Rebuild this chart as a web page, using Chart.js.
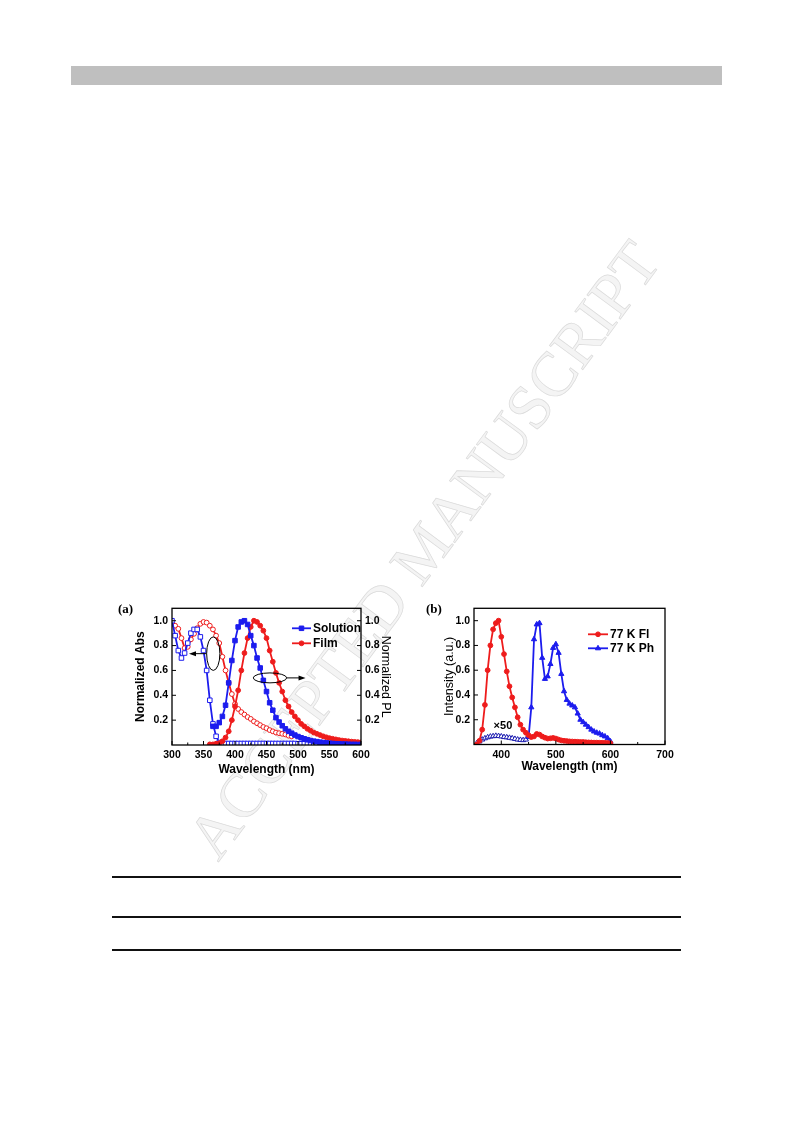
<!DOCTYPE html>
<html>
<head>
<meta charset="utf-8">
<title>Absorption and PL spectra</title>
<script src="https://cdn.jsdelivr.net/npm/chart.js@4.4.1/dist/chart.umd.min.js"></script>
<style>
  html, body { margin: 0; padding: 0; background: #fff; }
  #page { position: relative; width: 793px; height: 1123px; overflow: hidden; }
  .bar { position: absolute; left: 71px; top: 66px; width: 651px; height: 19px; background: #bfbfbf; }
  .rule { position: absolute; left: 112px; width: 569px; height: 2px; background: #111; }
  .mark {
    position: absolute; left: 424px; top: 550px; line-height: 1;
    transform: translate(-50%, -50%) rotate(-53.5deg);
    font: 63px "Liberation Serif", "Times New Roman", serif;
    color: #f4f4f4; -webkit-text-stroke: 0.7px #dadada; white-space: nowrap;
  }
  .panel-label { position: absolute; font: bold 13px "Liberation Serif", "Times New Roman", serif; line-height: 1; }
  canvas { position: absolute; }
</style>
</head>
<body>
<div id="page">
  <div class="bar"></div>
  <div class="mark">ACCEPTED MANUSCRIPT</div>
  <canvas id="chartA" width="290" height="185" style="left:118px;top:598px"></canvas>
  <canvas id="chartB" width="265" height="185" style="left:420px;top:598px"></canvas>
  <div class="panel-label" style="left:118px;top:602px">(a)</div>
  <div class="panel-label" style="left:426px;top:602px">(b)</div>
  <div class="rule" style="top:876px"></div>
  <div class="rule" style="top:916px"></div>
  <div class="rule" style="top:949px"></div>
</div>
<script>
"use strict";

// ---- panel (a): absorption / PL, solution vs film ----
const wavelengthA = [
  300, 305, 310, 315, 320, 325, 330, 335, 340, 345,
  350, 355, 360, 365, 370, 375, 380, 385, 390, 395,
  400, 405, 410, 415, 420, 425, 430, 435, 440, 445,
  450, 455, 460, 465, 470, 475, 480, 485, 490, 495,
  500, 505, 510, 515, 520, 525, 530, 535, 540, 545,
  550, 555, 560, 565, 570, 575, 580, 585, 590, 595,
  600
];
const solutionAbs = [
  1.0, 0.88, 0.76, 0.70, 0.74, 0.82, 0.90, 0.93, 0.93, 0.87,
  0.76, 0.60, 0.36, 0.17, 0.07, 0.02, 0.008, 0.012, 0.012, 0.012,
  0.012, 0.012, 0.012, 0.012, 0.012, 0.012, 0.012, 0.012, 0.012, 0.012,
  0.012, 0.012, 0.012, 0.012, 0.012, 0.012, 0.012, 0.012, 0.012, 0.012,
  0.01, 0.01, 0.01, 0.01, 0.01, 0.01, 0.01, 0.01, 0.01, 0.01,
  0.01, 0.01, 0.01, 0.01, 0.01, 0.01, 0.01, 0.01, 0.01, 0.01,
  0.01
];
const filmAbs = [
  0.975, 0.96, 0.935, 0.86, 0.78, 0.79, 0.85, 0.895, 0.94, 0.975,
  0.99, 0.985, 0.96, 0.93, 0.88, 0.82, 0.71, 0.60, 0.50, 0.41,
  0.33, 0.29, 0.265, 0.245, 0.225, 0.21, 0.19, 0.175, 0.16, 0.145,
  0.135, 0.12, 0.11, 0.10, 0.095, 0.09, 0.085, 0.075, 0.07, null,
  null, null, null, null, null, null, null, null, null, null,
  null, null, null, null, null, null, null, null, null, null,
  null
];
const solutionPL = [
  null, null, null, null, null, null, null, null, null, null,
  null, null, null, 0.15, 0.15, 0.18, 0.23, 0.32, 0.50, 0.68,
  0.84, 0.95, 0.99, 1.0, 0.97, 0.88, 0.80, 0.70, 0.62, 0.52,
  0.43, 0.34, 0.28, 0.22, 0.185, 0.155, 0.13, 0.11, 0.095, 0.08,
  0.068, 0.058, 0.05, 0.042, 0.036, 0.031, 0.027, 0.023, 0.02, 0.017,
  0.014, 0.012, 0.01, 0.009, 0.008, 0.007, 0.006, 0.005, 0.005, 0.004,
  0.004
];
const filmPL = [
  null, null, null, null, null, null, null, null, null, null,
  null, null, 0.005, 0.005, 0.01, 0.015, 0.03, 0.06, 0.11, 0.2,
  0.31, 0.44, 0.6, 0.74, 0.86, 0.95, 1.0, 0.99, 0.96, 0.92,
  0.86, 0.76, 0.67, 0.58, 0.5, 0.43, 0.36, 0.31, 0.265, 0.23,
  0.2, 0.17, 0.15, 0.13, 0.115, 0.1, 0.09, 0.08, 0.07, 0.062,
  0.055, 0.05, 0.045, 0.04, 0.036, 0.033, 0.03, 0.027, 0.025, 0.023,
  0.021
];
const xTicksA = [300, 350, 400, 450, 500, 550, 600];
const xMinorA = [325, 375, 425, 475, 525, 575];

// ---- panel (b): 77 K fluorescence / phosphorescence ----
const wavelengthB = [
  355, 360, 365, 370, 375, 380, 385, 390, 395, 400,
  405, 410, 415, 420, 425, 430, 435, 440, 445, 450,
  455, 460, 465, 470, 475, 480, 485, 490, 495, 500,
  505, 510, 515, 520, 525, 530, 535, 540, 545, 550,
  555, 560, 565, 570, 575, 580, 585, 590, 595, 600
];
const fl77 = [
  0, 0.03, 0.12, 0.32, 0.6, 0.8, 0.93, 0.98, 1.0, 0.87,
  0.73, 0.59, 0.47, 0.38, 0.3, 0.22, 0.16, 0.12, 0.095, 0.075,
  0.06, 0.065, 0.085, 0.08, 0.065, 0.055, 0.048, 0.05, 0.053, 0.048,
  0.04, 0.033, 0.03, 0.028, 0.025, 0.024, 0.023, 0.022, 0.02, 0.02,
  0.018, 0.017, 0.016, 0.015, 0.015, 0.014, 0.014, 0.013, 0.012, 0.01
];
// magnified (x50) part of the phosphorescence below 450 nm
const ph77x50 = [
  0.01, 0.025, 0.04, 0.05, 0.058, 0.064, 0.067, 0.07, 0.068, 0.065,
  0.06, 0.058, 0.054, 0.05, 0.045, 0.04, 0.037, 0.035, 0.04, 0.06,
  null, null, null, null, null, null, null, null, null, null,
  null, null, null, null, null, null, null, null, null, null,
  null, null, null, null, null, null, null, null, null, null
];
const ph77 = [
  null, null, null, null, null, null, null, null, null, null,
  null, null, null, null, null, null, null, null, null, 0.06,
  0.3, 0.85, 0.97, 0.98, 0.7, 0.53, 0.55, 0.65, 0.78, 0.81,
  0.74, 0.57, 0.43, 0.36, 0.33, 0.315, 0.3, 0.25, 0.2, 0.18,
  0.16, 0.14, 0.12, 0.105, 0.095, 0.088, 0.075, 0.065, 0.05, 0.025
];
const xTicksB = [400, 500, 600, 700];
const xMinorB = [450, 550, 650];

const yTicks = [0.2, 0.4, 0.6, 0.8, 1.0];

const RED = "#ee1c1c";
const BLUE = "#1c1cee";
const FONT = '"Liberation Sans", Arial, sans-serif';

Chart.defaults.font.family = FONT;
Chart.defaults.color = "#000";

const toPoints = (xs, ys) => xs.map((x, i) => ({ x: x, y: ys[i] })).filter(p => p.y !== null);
const fixTicks = values => scale => { scale.ticks = values.map(v => ({ value: v })); };

// box around the plot and small inward tick marks
const frameTicks = {
  id: "frameTicks",
  afterDatasetsDraw(chart, args, opts) {
    const { ctx, chartArea: a, scales } = chart;
    ctx.save();
    ctx.strokeStyle = "#000";
    ctx.lineWidth = 1;
    ctx.beginPath();
    opts.xMajor.forEach(v => {
      const px = scales.x.getPixelForValue(v);
      ctx.moveTo(px, a.bottom); ctx.lineTo(px, a.bottom - 4);
    });
    opts.xMinor.forEach(v => {
      const px = scales.x.getPixelForValue(v);
      ctx.moveTo(px, a.bottom); ctx.lineTo(px, a.bottom - 2.5);
    });
    opts.yMajor.forEach(v => {
      const py = scales.y.getPixelForValue(v);
      ctx.moveTo(a.left, py); ctx.lineTo(a.left + 4, py);
      if (opts.right) { ctx.moveTo(a.right, py); ctx.lineTo(a.right - 4, py); }
    });
    ctx.stroke();
    ctx.lineWidth = 1.3;
    ctx.strokeRect(a.left, a.top, a.right - a.left, a.bottom - a.top);
    ctx.restore();
  }
};

// legend drawn inside the plot, top right
const insideLegend = {
  id: "insideLegend",
  afterDraw(chart, args, opts) {
    const { ctx, chartArea: a } = chart;
    ctx.save();
    ctx.font = "bold 12px " + FONT;
    ctx.textBaseline = "middle";
    opts.items.forEach((idx, i) => {
      const ds = chart.data.datasets[idx];
      const x0 = a.left + opts.left;
      const y = a.top + opts.top + i * opts.gap;
      ctx.strokeStyle = ds.borderColor;
      ctx.lineWidth = ds.borderWidth;
      ctx.beginPath(); ctx.moveTo(x0, y); ctx.lineTo(x0 + opts.length, y); ctx.stroke();
      ctx.fillStyle = ds.pointBackgroundColor;
      ctx.lineWidth = 1;
      Chart.helpers.drawPoint(ctx, { pointStyle: ds.pointStyle, radius: ds.pointRadius, rotation: 0, borderWidth: 1 },
        x0 + opts.length / 2, y);
      ctx.fillStyle = "#000";
      ctx.fillText(ds.label, x0 + opts.length + 2, y);
    });
    ctx.restore();
  }
};

// ellipses with arrows and text notes, placed in data coordinates
const notes = {
  id: "notes",
  afterDatasetsDraw(chart, args, opts) {
    const { ctx, scales: { x, y } } = chart;
    ctx.save();
    ctx.strokeStyle = "#000";
    ctx.fillStyle = "#000";
    ctx.lineWidth = 1;
    (opts.ellipses || []).forEach(e => {
      const cx = x.getPixelForValue(e.x), cy = y.getPixelForValue(e.y);
      const rx = Math.abs(x.getPixelForValue(e.x + e.rx) - cx);
      const ry = Math.abs(y.getPixelForValue(e.y + e.ry) - cy);
      ctx.beginPath(); ctx.ellipse(cx, cy, rx, ry, 0, 0, Math.PI * 2); ctx.stroke();
      const x1 = x.getPixelForValue(e.from), x2 = x.getPixelForValue(e.to);
      const dir = Math.sign(x2 - x1);
      ctx.beginPath(); ctx.moveTo(x1, cy); ctx.lineTo(x2 - dir * 5, cy); ctx.stroke();
      ctx.beginPath();
      ctx.moveTo(x2, cy); ctx.lineTo(x2 - dir * 7, cy - 2.5); ctx.lineTo(x2 - dir * 7, cy + 2.5);
      ctx.closePath(); ctx.fill();
    });
    (opts.texts || []).forEach(t => {
      ctx.font = "bold 11px " + FONT;
      ctx.textAlign = "center";
      ctx.textBaseline = "middle";
      ctx.fillText(t.text, x.getPixelForValue(t.x), y.getPixelForValue(t.y));
    });
    ctx.restore();
  }
};

const tickFont = { size: 10.5, weight: "bold" };

const yAxis = (position, title, titleFont, width, pad) => ({
  type: "linear",
  position: position,
  min: 0,
  max: 1.1,
  grid: { display: false, drawTicks: false },
  border: { display: false },
  afterBuildTicks: fixTicks(yTicks),
  afterFit: s => { s.width = width; },
  ticks: { font: tickFont, padding: 4, callback: v => v.toFixed(1) },
  title: { display: true, text: title, font: titleFont, padding: { top: pad, bottom: 0 } }
});

const lineSet = (label, xs, ys, color, style, radius, fill, axis) => ({
  label: label,
  data: toPoints(xs, ys),
  yAxisID: axis,
  borderColor: color,
  borderWidth: 1.8,
  pointStyle: style,
  pointRadius: radius,
  pointBorderWidth: 1,
  pointBorderColor: color,
  pointBackgroundColor: fill,
  tension: 0
});

new Chart(document.getElementById("chartA"), {
  type: "line",
  data: {
    datasets: [
      lineSet("Solution", wavelengthA, solutionPL, BLUE, "rect", 3.2, BLUE, "y2"),
      lineSet("Film", wavelengthA, filmPL, RED, "circle", 2.4, RED, "y2"),
      lineSet("Solution abs", wavelengthA, solutionAbs, BLUE, "rect", 3.2, "#fff", "y"),
      lineSet("Film abs", wavelengthA, filmAbs, RED, "circle", 2.4, "#fff", "y")
    ]
  },
  options: {
    responsive: false,
    animation: false,
    devicePixelRatio: 1,
    layout: { padding: { top: 7, right: 0, bottom: 0, left: 0 } },
    scales: {
      x: {
        type: "linear",
        position: "bottom",
        min: 300,
        max: 600,
        grid: { display: false, drawTicks: false },
        border: { display: false },
        afterBuildTicks: fixTicks(xTicksA),
        afterFit: s => { s.height = 38; },
        ticks: { font: tickFont, padding: 4, maxRotation: 0, callback: v => String(v) },
        title: { display: true, text: "Wavelength (nm)", font: { size: 12, weight: "bold" }, padding: { top: 0, bottom: 6 } }
      },
      y: yAxis("left", "Normalized Abs", { size: 12, weight: "bold" }, 54, 15),
      y2: yAxis("right", "Normalized PL", { size: 12.5, weight: "normal" }, 47, 15)
    },
    plugins: {
      legend: { display: false },
      tooltip: { enabled: false },
      frameTicks: { xMajor: xTicksA, xMinor: xMinorA, yMajor: yTicks, right: true },
      insideLegend: { items: [0, 1], left: 120, top: 20, gap: 15, length: 19 },
      notes: {
        ellipses: [
          { x: 365.5, y: 0.735, rx: 10.5, ry: 0.135, from: 355, to: 327 },
          { x: 455.5, y: 0.54, rx: 26.5, ry: 0.04, from: 482, to: 512 }
        ]
      }
    }
  },
  plugins: [frameTicks, insideLegend, notes]
});

new Chart(document.getElementById("chartB"), {
  type: "line",
  data: {
    datasets: [
      lineSet("77 K Fl", wavelengthB, fl77, RED, "circle", 2.4, RED, "y"),
      lineSet("77 K Ph", wavelengthB, ph77, BLUE, "triangle", 3, BLUE, "y"),
      lineSet("77 K Ph x50", wavelengthB, ph77x50, "#1a1ab0", "triangle", 3, "#fff", "y")
    ]
  },
  options: {
    responsive: false,
    animation: false,
    devicePixelRatio: 1,
    layout: { padding: { top: 6, right: 20, bottom: 0, left: 0 } },
    scales: {
      x: {
        type: "linear",
        position: "bottom",
        min: 350,
        max: 700,
        grid: { display: false, drawTicks: false },
        border: { display: false },
        afterBuildTicks: fixTicks(xTicksB),
        afterFit: s => { s.height = 38.5; },
        ticks: { font: tickFont, padding: 4, maxRotation: 0, callback: v => String(v) },
        title: { display: true, text: "Wavelength (nm)", font: { size: 12, weight: "bold" }, padding: { top: 0, bottom: 9 } }
      },
      y: yAxis("left", "Intensity (a.u.)", { size: 12.5, weight: "normal" }, 54, 22)
    },
    plugins: {
      legend: { display: false },
      tooltip: { enabled: false },
      frameTicks: { xMajor: xTicksB, xMinor: xMinorB, yMajor: yTicks, right: false },
      insideLegend: { items: [0, 1], left: 114, top: 26, gap: 14, length: 20 },
      notes: { texts: [{ text: "\u00d750", x: 403, y: 0.15 }] }
    }
  },
  plugins: [frameTicks, insideLegend, notes]
});
</script>
</body>
</html>
